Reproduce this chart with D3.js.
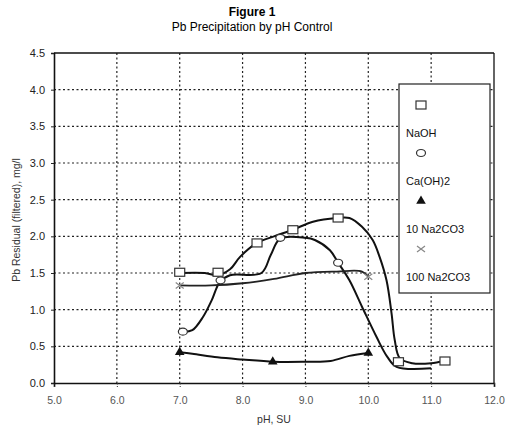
<!DOCTYPE html>
<html><head><meta charset="utf-8">
<script src="https://cdn.jsdelivr.net/npm/d3@7"></script>
<style>body{margin:0;background:#fff;} text{font-family:"Liberation Sans",Arial,sans-serif;}</style>
</head><body><svg id="c" width="505" height="429"></svg>
<script>
// ---- data ----
const xTicks = [5.0, 6.0, 7.0, 8.0, 9.0, 10.0, 11.0, 12.0];
const yTicks = [0.0, 0.5, 1.0, 1.5, 2.0, 2.5, 3.0, 3.5, 4.0, 4.5];
const seriesNames = ["NaOH", "Ca(OH)2", "10 Na2CO3", "100 Na2CO3"];
// curve traces [pH, mg/l]
const naohLine = [[7.0,1.5],[7.4,1.5],[7.6,1.47],[7.8,1.55],[7.96,1.72],[8.23,1.91],[8.5,2.0],[8.8,2.09],[9.12,2.2],[9.5,2.25],[9.7,2.25],[9.9,2.13],[10.07,1.95],[10.18,1.72],[10.29,1.4],[10.37,0.95],[10.42,0.59],[10.5,0.34],[10.7,0.27],[11.0,0.27],[11.2,0.3]];
const caLine = [[7.05,0.7],[7.2,0.72],[7.37,0.9],[7.51,1.13],[7.64,1.38],[7.8,1.47],[8.3,1.5],[8.45,1.75],[8.6,1.97],[9.0,1.98],[9.15,1.95],[9.39,1.81],[9.52,1.64],[9.7,1.4],[9.9,1.04],[10.13,0.63],[10.3,0.36],[10.45,0.22],[11.0,0.2]];
const na10Line = [[7.0,0.42],[7.2,0.4],[7.6,0.35],[8.0,0.32],[8.5,0.29],[9.0,0.29],[9.4,0.3],[9.7,0.37],[10.0,0.41]];
const na100Line = [[7.0,1.33],[7.5,1.33],[8.0,1.36],[8.5,1.42],[9.0,1.5],[9.5,1.52],[9.9,1.52],[10.0,1.45]];
// markers [pH, mg/l]
const naohPts = [[7.0,1.51],[7.61,1.51],[8.23,1.91],[8.8,2.09],[9.52,2.25],[10.48,0.29],[11.22,0.3]];
const caPts = [[7.05,0.7],[7.65,1.4],[8.6,1.98],[9.52,1.64]];
const na10Pts = [[7.0,0.42],[8.48,0.29],[10.0,0.41]];
const na100Pts = [[7.0,1.33],[10.0,1.45]];

const svg = d3.select("#c");
const x = d3.scaleLinear().domain([5,12]).range([54,494]);
const y = d3.scaleLinear().domain([0,4.5]).range([383,53]);

// title
svg.append("text").attr("x",252).attr("y",16).attr("text-anchor","middle").attr("font-size",12).attr("font-weight","bold").text("Figure 1");
svg.append("text").attr("x",252).attr("y",31).attr("text-anchor","middle").attr("font-size",12).text("Pb Precipitation by pH Control");

// grid
const g = svg.append("g");
g.selectAll("line.gx").data(xTicks.slice(1,-1)).join("line")
  .attr("x1",d=>x(d)).attr("x2",d=>x(d)).attr("y1",y(4.5)).attr("y2",y(0))
  .attr("stroke","#222").attr("stroke-width",1.2).attr("stroke-dasharray","2,2.5");
g.selectAll("line.gy").data(yTicks.slice(1,-1)).join("line")
  .attr("x1",x(5)).attr("x2",x(12)).attr("y1",d=>y(d)).attr("y2",d=>y(d))
  .attr("stroke","#222").attr("stroke-width",1.2).attr("stroke-dasharray","2,2.5");

// axes
const xa = svg.append("g").attr("transform",`translate(0,${y(0)})`)
  .call(d3.axisBottom(x).tickValues(xTicks).tickFormat(d3.format(".1f")).tickSize(4).tickPadding(10));
xa.select(".domain").attr("stroke","#111").attr("stroke-width",1.6);
xa.selectAll(".tick line").attr("stroke","#333").attr("stroke-dasharray","1.5,1.5");
xa.selectAll("text").attr("font-size",10.5).attr("fill","#555").attr("font-family","Liberation Sans, Arial");
const ya = svg.append("g").attr("transform",`translate(${x(5)},0)`)
  .call(d3.axisLeft(y).tickValues(yTicks).tickFormat(d3.format(".1f")).tickSize(3).tickPadding(6));
ya.select(".domain").attr("stroke","#111").attr("stroke-width",1.6);
ya.selectAll(".tick line").attr("stroke","#222");
ya.selectAll("text").attr("font-size",11).attr("fill","#222").attr("font-family","Liberation Sans, Arial");
// top & right border
svg.append("line").attr("x1",x(5)).attr("x2",x(12)).attr("y1",y(4.5)).attr("y2",y(4.5)).attr("stroke","#111").attr("stroke-width",1.6);
svg.append("line").attr("x1",x(12)).attr("x2",x(12)).attr("y1",y(4.5)).attr("y2",y(0)).attr("stroke","#111").attr("stroke-width",1.3);

svg.append("text").attr("x",274).attr("y",423).attr("text-anchor","middle").attr("font-size",10.5).attr("fill","#333").text("pH, SU");
svg.append("text").attr("transform","translate(20,220) rotate(-90)").attr("text-anchor","middle").attr("font-size",10.5).attr("fill","#333").text("Pb Residual (filtered), mg/l");

// lines
const line = d3.line().x(d=>x(d[0])).y(d=>y(d[1])).curve(d3.curveCatmullRom.alpha(0.5));
[naohLine, caLine, na10Line].forEach(L=>{
  svg.append("path").attr("d",line(L)).attr("fill","none").attr("stroke","#111").attr("stroke-width",2);
});
svg.append("path").attr("d",line(na100Line)).attr("fill","none").attr("stroke","#222").attr("stroke-width",1.8);

// markers
function sq(sel, px, py){ sel.append("rect").attr("x",px-5).attr("y",py-4).attr("width",10).attr("height",8).attr("fill","#fff").attr("stroke","#333").attr("stroke-width",1.2); }
function circ(sel, px, py){ sel.append("ellipse").attr("cx",px).attr("cy",py).attr("rx",4.5).attr("ry",3.5).attr("fill","#fff").attr("stroke","#333").attr("stroke-width",1.2); }
function tri(sel, px, py){ sel.append("path").attr("d",d3.symbol(d3.symbolTriangle,40)()).attr("transform",`translate(${px},${py})`).attr("fill","#111"); }
function xm(sel, px, py){ sel.append("path").attr("d",`M${px-4},${py-3}L${px+4},${py+3}M${px-4},${py+3}L${px+4},${py-3}`).attr("stroke","#888").attr("stroke-width",1.2); }
const m = svg.append("g");
naohPts.forEach(d=>sq(m,x(d[0]),y(d[1])));
caPts.forEach(d=>circ(m,x(d[0]),y(d[1])));
na10Pts.forEach(d=>tri(m,x(d[0]),y(d[1])));
na100Pts.forEach(d=>xm(m,x(d[0]),y(d[1])));

// legend
const lg = svg.append("g");
lg.append("rect").attr("x",399).attr("y",84).attr("width",91).attr("height",209).attr("fill","#fff").attr("stroke","#222").attr("stroke-width",1.2);
const markFns = [sq, circ, tri, xm];
seriesNames.forEach((n,i)=>{
  const my = 105 + i*48;
  markFns[i](lg, 421, my);
  lg.append("text").attr("x",406).attr("y",my+32).attr("font-size",11).attr("fill","#111").text(n);
});
</script></body></html>
